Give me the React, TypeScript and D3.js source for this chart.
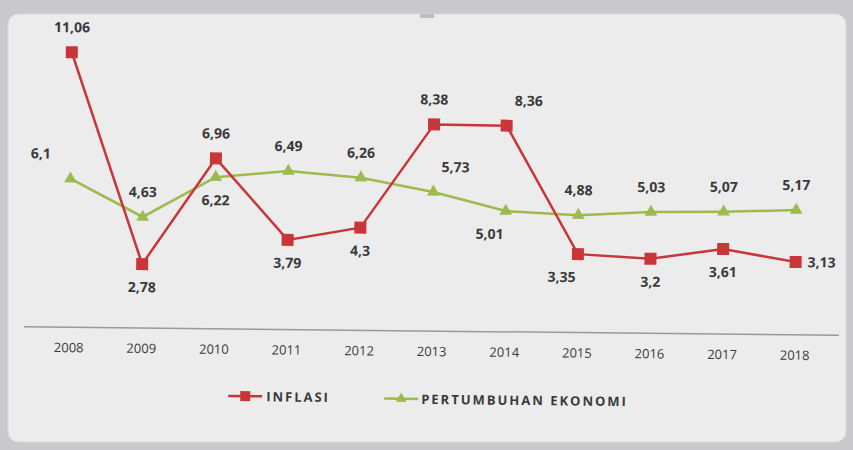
import React from "react";
import * as d3 from "d3";

const years = ["2008","2009","2010","2011","2012","2013","2014","2015","2016","2017","2018"];
const inflasi = [11.06, 2.78, 6.96, 3.79, 4.3, 8.38, 8.36, 3.35, 3.2, 3.61, 3.13];
const pertumbuhan = [6.1, 4.63, 6.22, 6.49, 6.26, 5.73, 5.01, 4.88, 5.03, 5.07, 5.17];
const inflasiLabelPos = ["top","bottom","top","bottom","bottom","top","topright","bottomleft","bottom","bottom","right"];
const pertumbuhanLabelPos = ["topleft","top","bottom","top","top","topright","bottomleft","top","top","top","top"];

const W = 853, H = 450;
const RED = "#c9363a";
const GREEN = "#9dba4c";
const TXT = "#3a3a3a";

function offset(p: string): [number, number, string] {
  switch (p) {
    case "top": return [0, -20, "middle"];
    case "bottom": return [0, 28, "middle"];
    case "topright": return [22, -20, "middle"];
    case "topleft": return [-30, -20, "middle"];
    case "bottomleft": return [-16, 28, "middle"];
    case "right": return [12, 5, "start"];
    default: return [0, -20, "middle"];
  }
}

export default function App() {
  const x = d3.scalePoint<string>().domain(years).range([70, 796]);
  const y = d3.scaleLinear().domain([0, 12]).range([338, 32]);
  const lineI = d3.line<number>().x((_, i) => x(years[i])!).y(d => y(d));
  const lineG = d3.line<number>().x((_, i) => x(years[i])!).y(d => y(d));
  const fmt = (v: number) => String(v).replace(".", ",");
  const font = "'Open Sans', 'DejaVu Sans', sans-serif";

  return (
    <div style={{ position: "absolute", left: 0, top: 0 }}>
      <svg width={W} height={H} style={{ display: "block" }}>
        <rect x={0} y={0} width={W} height={H} fill="#c9c9cc" />
        <rect x={8} y={14} width={838} height={428} rx={10} fill="#ececec" stroke="#d8d8d8" />
        <rect x={420} y={14} width={14} height={4} fill="#bdbdbd" />
        <g transform="rotate(0.6, 426, 225)">
          <line x1={25} x2={840} y1={331} y2={331} stroke="#9a9a9a" strokeWidth={1.5} />
          {years.map(yr => (
            <text key={yr} x={x(yr)} y={356} textAnchor="middle" fontFamily={font} fontSize={13} fill={TXT}>{yr}</text>
          ))}
          <path d={lineG(pertumbuhan)!} fill="none" stroke={GREEN} strokeWidth={2.5} />
          <path d={lineI(inflasi)!} fill="none" stroke={RED} strokeWidth={2.5} />
          {pertumbuhan.map((v, i) => {
            const cx = x(years[i])!, cy = y(v);
            return <path key={"g" + i} d={d3.symbol(d3.symbolTriangle, 70)()!} transform={`translate(${cx},${cy})`} fill={GREEN} />;
          })}
          {inflasi.map((v, i) => (
            <rect key={"r" + i} x={x(years[i])! - 6} y={y(v) - 6} width={12} height={12} fill={RED} />
          ))}
          {inflasi.map((v, i) => {
            const [dx, dy, a] = offset(inflasiLabelPos[i]);
            return <text key={"li" + i} x={x(years[i])! + dx} y={y(v) + dy} textAnchor={a} fontFamily={font} fontSize={14} fontWeight={700} fill={TXT}>{fmt(v)}</text>;
          })}
          {pertumbuhan.map((v, i) => {
            const [dx, dy, a] = offset(pertumbuhanLabelPos[i]);
            return <text key={"lg" + i} x={x(years[i])! + dx} y={y(v) + dy} textAnchor={a} fontFamily={font} fontSize={14} fontWeight={700} fill={TXT}>{fmt(v)}</text>;
          })}
          <g>
            <line x1={230} x2={264} y1={398} y2={398} stroke={RED} strokeWidth={2.5} />
            <rect x={242} y={393} width={10} height={10} fill={RED} />
            <text x={268} y={403} fontFamily={font} fontSize={13} fontWeight={700} letterSpacing={2} fill={TXT}>INFLASI</text>
            <line x1={386} x2={420} y1={399} y2={399} stroke={GREEN} strokeWidth={2.5} />
            <path d={d3.symbol(d3.symbolTriangle, 50)()!} transform="translate(403,399)" fill={GREEN} />
            <text x={423} y={404} fontFamily={font} fontSize={13} fontWeight={700} letterSpacing={2} fill={TXT}>PERTUMBUHAN EKONOMI</text>
          </g>
        </g>
      </svg>
    </div>
  );
}
